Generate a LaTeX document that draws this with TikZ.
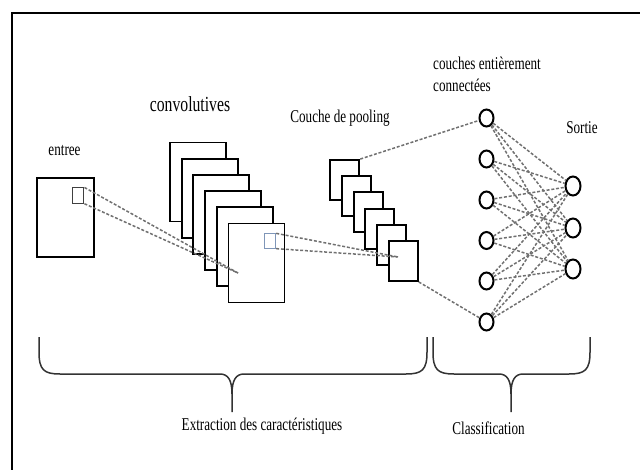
\documentclass[tikz,border=0pt]{standalone}
\usepackage{fontspec}
\newfontfamily\lblfont{Liberation Serif}[FakeStretch=0.73]
\usetikzlibrary{shapes.geometric}
\definecolor{patchblue}{HTML}{7F96B8}
\definecolor{linkgrey}{HTML}{707070}
\begin{document}
\begin{tikzpicture}[x=1bp,y=-1bp,
  fmap/.style={draw=black, fill=white, line width=1.9bp, inner sep=0pt},
  convmap/.style={fmap, minimum width=56bp, minimum height=79bp},
  poolmap/.style={fmap, minimum width=29bp, minimum height=40bp},
  patch/.style={draw, inner sep=0pt, minimum width=11bp, minimum height=15bp, line width=1bp},
  neuron/.style={draw=black, ellipse, line width=2bp, inner sep=0pt, minimum width=14bp, minimum height=17bp},
  outneuron/.style={neuron, minimum width=15bp, minimum height=19bp},
  link/.style={draw=linkgrey, line width=1.5bp, dash pattern=on 3bp off 1.8bp},
  brace/.style={draw=black!80, line width=1.5bp},
  lbl/.style={font=\lblfont\fontsize{18bp}{22bp}\selectfont, inner sep=0pt},
]
\useasboundingbox (0,0) rectangle (640,470);

% outer frame
\draw[line width=2bp] (11.5,470) -- (11.5,12.7) -- (640,12.7);

% input image with its receptive field
\node[fmap, minimum width=57bp, minimum height=79bp] (in) at (65.5,217.5) {};
\node[patch, draw=black!75, minimum width=11.3bp, minimum height=15.3bp] (inpatch) at (78.3,195.6) {};

% stack of convolution feature maps
\foreach \k in {0,...,5}
  \node[convmap] (c\k) at ({198+11.7*\k},{182+16.2*\k}) {};
\node[patch, draw=patchblue, minimum width=11.4bp, minimum height=14.3bp] (cpatch) at (270,241) {};
\coordinate (cfocus) at (238,273);

% stack of pooled maps
\foreach \k in {0,...,5}
  \node[poolmap] (p\k) at ({344.8+11.7*\k},{180+16.2*\k}) {};
\coordinate (pfocus) at (398,257);

% fully connected layer and output layer
\foreach \i/\y in {1/118,2/159,3/200,4/240.5,5/281,6/322}
  \node[neuron] (h\i) at (486.5,\y) {};
\foreach \j/\y in {1/186,2/228,3/269}
  \node[outneuron] (o\j) at (573,\y) {};

% connections
\draw[link] (inpatch.north east) -- (cfocus);
\draw[link] (inpatch.south east) -- (cfocus);
\draw[link] (cpatch.north east) -- (pfocus);
\draw[link] (cpatch.south east) -- (pfocus);
\draw[link] (p0.north east) -- (h1);
\draw[link] (p5.south east) -- (h6);
\foreach \i in {1,...,6}
  \foreach \j in {1,2,3}
    \draw[link] (h\i) -- (o\j);

% braces under the two stages
\coordinate (bA) at (232,412);
\coordinate (bB) at (511,412);
\draw[brace] (39,337) -- (39,352) .. controls (39,370) and (44,374) .. (60,374)
  -- (220,374) .. controls (228,374) and (232,380) .. (232,394) -- (bA)
  -- (232,394) .. controls (232,380) and (236,374) .. (244,374)
  -- (406,374) .. controls (422,374) and (427,370) .. (427,352) -- (427,337);
\draw[brace] (433,337) -- (433,352) .. controls (433,370) and (438,374) .. (454,374)
  -- (499,374) .. controls (507,374) and (511,380) .. (511,394) -- (bB)
  -- (511,394) .. controls (511,380) and (515,374) .. (523,374)
  -- (569,374) .. controls (585,374) and (590,370) .. (590,352) -- (590,337);

% labels
\node[lbl] (tin) at (64.5,151) {entree};
\node[lbl, font=\lblfont\fontsize{21.5bp}{24bp}\selectfont] (tconv) at (190,104) {convolutives};
\node[lbl] (tpool) at (340,118) {Couche de pooling};
\node[lbl, align=left, anchor=west] (tfc) at (433,74.5) {couches entièrement\\connectées};
\node[lbl] (tout) at (582,128) {Sortie};
\node[lbl] (tfeat) at (262,426) {Extraction des caractéristiques};
\node[lbl] (tclass) at (488.5,428) {Classification};
\end{tikzpicture}
\end{document}
